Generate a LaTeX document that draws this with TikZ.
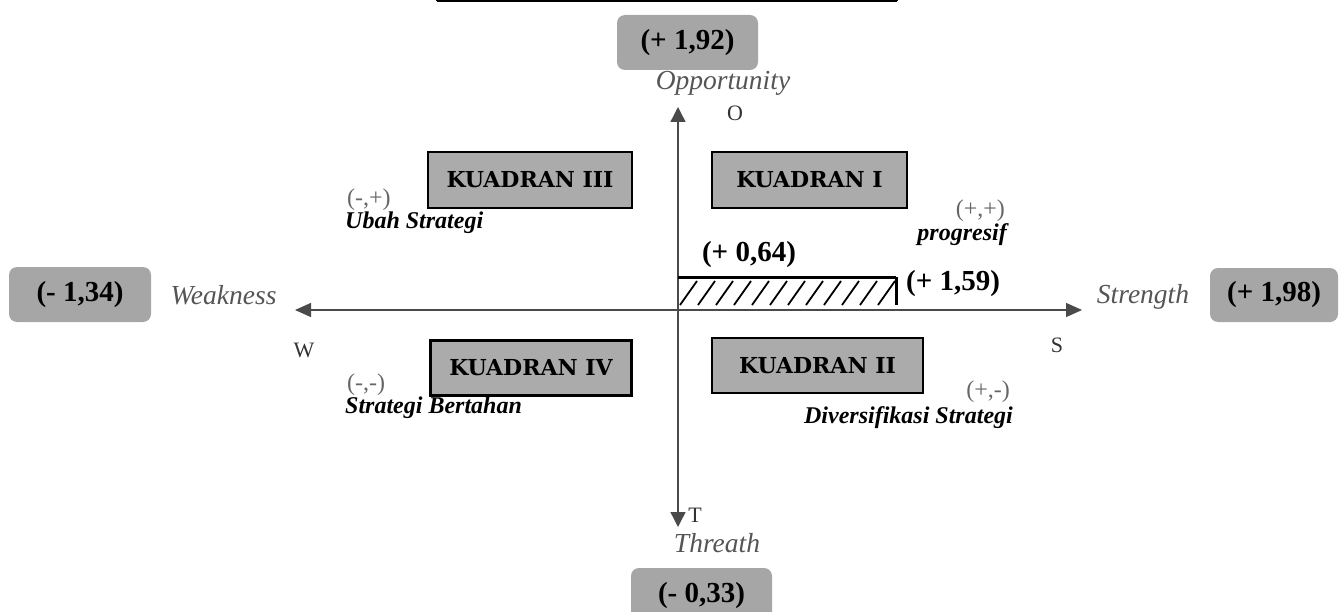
\documentclass[tikz,border=0pt]{standalone}
\usepackage{fontspec}
\setmainfont{Liberation Serif}
\newfontfamily\kfont{DejaVu Serif}
\usetikzlibrary{arrows.meta}
\definecolor{boxgray}{HTML}{A6A6A6}
\definecolor{quadgray}{HTML}{ABABAB}
\definecolor{axisgray}{HTML}{4A4A4A}
\definecolor{labgray}{HTML}{555555}
\definecolor{lettergray}{HTML}{333333}
\definecolor{signgray}{HTML}{666666}
\begin{document}
\begin{tikzpicture}[x=1pt,y=-1pt,
  valbox/.style={fill=boxgray, rounded corners=8pt, inner sep=0pt,
    font=\bfseries\fontsize{29}{32}\selectfont},
  quadbox/.style={draw=black, line width=2.6pt, fill=quadgray, inner sep=0pt,
    font=\kfont\bfseries\fontsize{22}{24}\selectfont},
  axislab/.style={inner sep=0pt, text=labgray, font=\itshape\fontsize{27.5}{30}\selectfont},
  letter/.style={inner sep=0pt, text=lettergray, font=\fontsize{22}{24}\selectfont},
  numlab/.style={inner sep=0pt, font=\bfseries\fontsize{29}{32}\selectfont},
  sign/.style={inner sep=0pt, text=signgray, font=\fontsize{24}{26}\selectfont},
  strat/.style={inner sep=0pt, text=black, font=\bfseries\itshape\fontsize{24}{26}\selectfont},
  axis/.style={draw=axisgray, line width=1.4pt},
  tbl/.style={draw=black, line width=2.4pt}
]
\useasboundingbox (0,0) rectangle (1340,612);

% table fragment at the top
\coordinate (t1) at (437,1.2);
\coordinate (t2) at (600,1.2);
\coordinate (t3) at (715,1.2);
\coordinate (t4) at (897,1.2);
\draw[tbl] (t1) -- (t4);
\foreach \c in {t1,t2,t3,t4} \draw[draw=black, line width=2pt] (\c) -- ++(0,-3);

% axes
\coordinate (C) at (678,310);
\coordinate (Otip) at (678,107);
\coordinate (Ttip) at (678,527);
\coordinate (Wtip) at (295,310);
\coordinate (Stip) at (1082,310);
\draw[axis, -{Triangle[length=15pt,width=15pt]}] (C) -- (Otip);
\draw[axis, -{Triangle[length=15pt,width=15pt]}] (C) -- (Ttip);
\draw[axis, -{Triangle[length=16pt,width=14pt]}] (C) -- (Wtip);
\draw[axis, -{Triangle[length=16pt,width=14pt]}] (C) -- (Stip);

% hatched bar
\coordinate (hA) at (678,277);
\coordinate (hB) at (896,277);
\coordinate (hC) at (896,305);
\foreach \k in {0,...,11} {
  \draw[black, line width=1.8pt] (680+18*\k,305) -- (697+18*\k,281);
}
\draw[black, line width=3pt] (hA) -- (hB);
\draw[black, line width=3pt] (hB) -- (hC);

% value boxes
\node[valbox, minimum width=141pt, minimum height=55pt] (vO) at (687.5,42.5) {(+ 1,92)};
\node[valbox, minimum width=142pt, minimum height=55pt] (vW) at (80,294.5) {(- 1,34)};
\node[valbox, minimum width=128pt, minimum height=54pt] (vS) at (1274,295) {(+ 1,98)};
\begin{scope}
\clip (0,0) rectangle (1340,612);
\node[valbox, minimum width=141pt, minimum height=56pt] (vT) at (701.5,596) {(- 0,33)};
\end{scope}

% quadrant boxes
\node[quadbox, minimum width=204pt, minimum height=56pt] (q3) at (530,180) {KUADRAN III};
\node[quadbox, minimum width=195pt, minimum height=56pt] (q1) at (809.5,180) {KUADRAN I};
\node[quadbox, minimum width=201pt, minimum height=55pt] (q4) at (531,368) {KUADRAN IV};
\node[quadbox, minimum width=211pt, minimum height=55pt] (q2) at (817.5,365.5) {KUADRAN II};

% axis labels
\node[axislab] (lO) at (723,83) {Opportunity};
\node[letter] (cO) at (735,113) {O};
\node[axislab] (lW) at (223.5,295) {Weakness};
\node[letter] (cW) at (304,350) {W};
\node[axislab] (lS) at (1143,297) {Strength};
\node[letter] (cS) at (1057,345) {S};
\node[letter] (cT) at (695,515) {T};
\node[axislab] (lT) at (717,543) {Threath};

% values on the bar
\node[numlab] (n064) at (749,255) {(+ 0,64)};
\node[numlab] (n159) at (953,284) {(+ 1,59)};

% quadrant descriptions
\node[sign, anchor=south west] (s3) at (347,211) {(-,+)};
\node[strat, anchor=north west] (d3) at (345,212) {Ubah Strategi};
\node[sign, anchor=south east] (s1) at (1005,222) {(+,+)};
\node[strat, anchor=north east] (d1) at (1007,223) {progresif};
\node[sign, anchor=south west] (s4) at (347,396) {(-,-)};
\node[strat, anchor=north west] (d4) at (345,397) {Strategi Bertahan};
\node[sign, anchor=south east] (s2) at (1010,403) {(+,-)};
\node[strat, anchor=north east] (d2) at (1013,406) {Diversifikasi Strategi};
\end{tikzpicture}
\end{document}
